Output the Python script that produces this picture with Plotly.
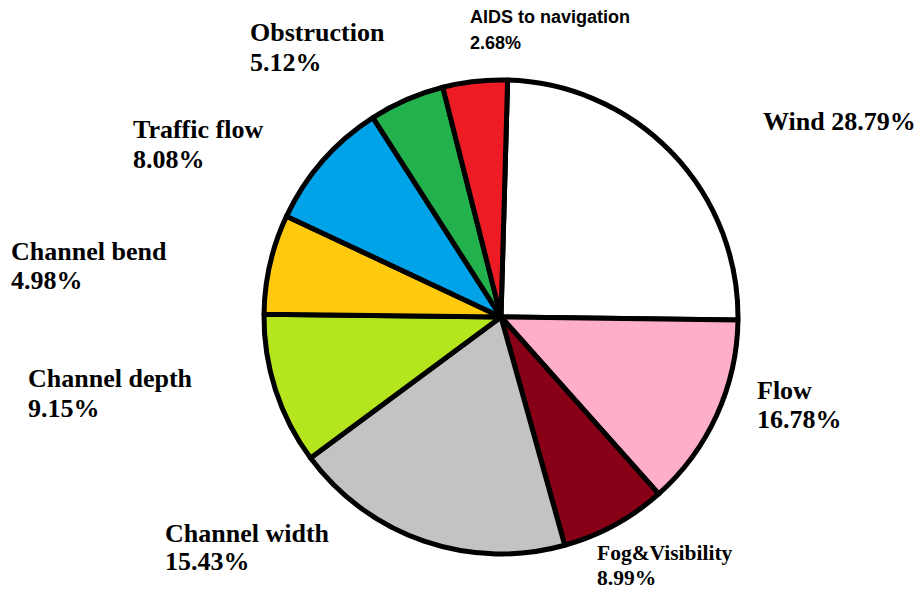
import plotly.graph_objects as go

# Categories (clockwise from 12 o'clock)
categories = ["Wind", "Flow", "Fog&Visibility", "Channel width", "Channel depth",
              "Channel bend", "Traffic flow", "Obstruction", "AIDS to navigation"]
# Printed percentages
pct_labels = ["28.79%", "16.78%", "8.99%", "15.43%", "9.15%",
              "4.98%", "8.08%", "5.12%", "2.68%"]
# Slice sizes as drawn in the picture (share of the circle, %)
slice_sizes = [24.75, 13.22, 7.25, 19.19, 10.33, 6.81, 8.92, 5.14, 4.39]
colors = ["#FFFFFF", "#FFAEC9", "#880015", "#C3C3C3", "#B5E61D",
          "#FFC90E", "#00A2E8", "#22B14C", "#ED1C24"]

W, H = 922, 590
cx, cy, r = 501, 317, 237

fig = go.Figure(go.Pie(
    labels=categories,
    values=slice_sizes,
    sort=False,
    direction="clockwise",
    rotation=1.6,
    marker=dict(colors=colors, line=dict(color="black", width=5)),
    textinfo="none",
    hoverinfo="label",
    showlegend=False,
    domain=dict(x=[(cx - r) / W, (cx + r) / W], y=[1 - (cy + r) / H, 1 - (cy - r) / H]),
))

serif = "Liberation Serif, Times New Roman, serif"
sans = "Liberation Sans, Arial, sans-serif"

# label layout: (left x px, line1 y px, line2 y px or None, font, size)
label_layout = {
    "Wind": (761, 122, None, serif, 26),
    "Flow": (755, 390, 419, serif, 26),
    "Fog&Visibility": (595, 553, 578, serif, 21.5),
    "Channel width": (163, 533, 561, serif, 26),
    "Channel depth": (26, 378, 408, serif, 26),
    "Channel bend": (9, 251, 281, serif, 26),
    "Traffic flow": (131, 130, 160, serif, 26),
    "Obstruction": (248, 32, 62, serif, 26),
    "AIDS to navigation": (468, 17, 43, sans, 18),
}

annotations = []
for cat, pct in zip(categories, pct_labels):
    x, y1, y2, fam, size = label_layout[cat]
    if y2 is None:
        lines = [(f"{cat} {pct}", y1)]
    else:
        lines = [(cat, y1), (pct, y2)]
    for txt, yy in lines:
        annotations.append(dict(
            text=f"<b>{txt}</b>", x=x / W, y=1 - yy / H, xref="paper", yref="paper",
            xanchor="left", yanchor="middle", showarrow=False,
            font=dict(family=fam, size=size, color="black"),
        ))

fig.update_layout(
    width=W, height=H,
    margin=dict(l=0, r=0, t=0, b=0),
    paper_bgcolor="white", plot_bgcolor="white",
    annotations=annotations,
)

fig.write_html("out.html")
